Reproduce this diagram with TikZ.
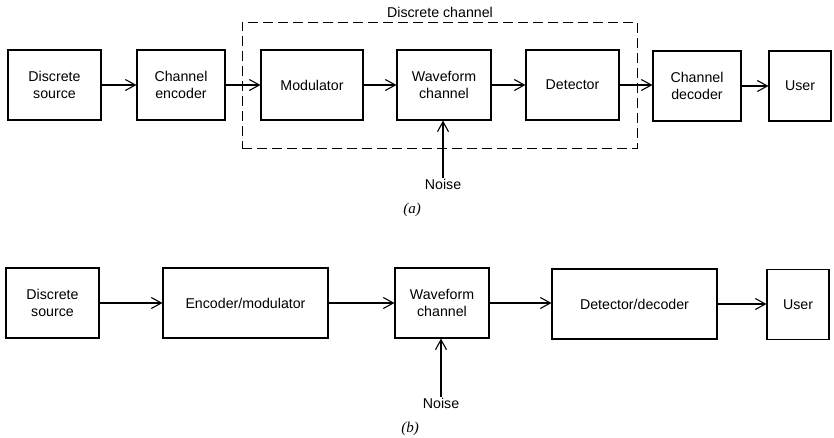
\documentclass[tikz,border=0pt]{standalone}
\usepackage{fontspec}
\setmainfont{Liberation Sans}
\newfontfamily\capfont{Liberation Serif}
\usetikzlibrary{arrows.meta}
\begin{document}
\begin{tikzpicture}[x=1pt,y=-1pt,
  blk/.style={draw,line width=1.1pt,minimum height=70pt,align=center,inner sep=2pt,
    font=\fontsize{14.2}{17}\selectfont},
  conn/.style={line width=1.8pt,-{Straight Barb[length=10pt,width=11pt,line width=1.1pt]}},
  txt/.style={font=\fontsize{14.2}{17}\selectfont,inner sep=1pt},
  figcap/.style={font=\capfont\itshape\fontsize{15}{17}\selectfont,inner sep=1pt}]
\useasboundingbox (0,0) rectangle (834,437);
% (a)
\node[draw,dashed,dash pattern=on 10pt off 5pt,line width=1pt,minimum width=395pt,minimum height=126pt] (dc) at (439.5,85) {};
\node[txt] (dcl) at (440,12) {Discrete channel};
\node[blk,minimum width=93pt] (src) at (54.5,85) {Discrete\\source};
\node[blk,minimum width=88pt] (enc) at (181,85) {Channel\\encoder};
\node[blk,minimum width=102pt] (mod) at (312,85) {Modulator};
\node[blk,minimum width=94pt] (wav) at (444,85) {Waveform\\channel};
\node[blk,minimum width=93pt] (det) at (572.5,85) {Detector};
\node[blk,minimum width=88pt] (dec) at (697,86) {Channel\\decoder};
\node[blk,minimum width=62pt] (usr) at (800,86) {User};
\node[txt] (noise) at (443,184) {Noise};
\node[figcap] (capa) at (412,210) {(a)};
\draw[conn] (src) -- (enc);
\draw[conn] (enc) -- (mod);
\draw[conn] (mod) -- (wav);
\draw[conn] (wav) -- (det);
\draw[conn] (det.east) -- (dec.west |- det.east);
\draw[conn] (dec) -- (usr);
\draw[conn] (noise.north) -- (noise.north |- wav.south);
% (b)
\node[blk,minimum width=93pt] (srcb) at (52.5,303) {Discrete\\source};
\node[blk,minimum width=165pt] (encb) at (245.5,303) {Encoder/modulator};
\node[blk,minimum width=94pt] (wavb) at (442,303) {Waveform\\channel};
\node[blk,minimum width=165pt] (detb) at (634.5,304) {Detector/decoder};
\node[blk,minimum width=62pt] (usrb) at (798,304.5) {User};
\node[txt] (noiseb) at (441,403) {Noise};
\node[figcap] (capb) at (410,429) {(b)};
\draw[conn] (srcb) -- (encb);
\draw[conn] (encb) -- (wavb);
\draw[conn] (wavb.east) -- (detb.west |- wavb.east);
\draw[conn] (detb.east) -- (usrb.west |- detb.east);
\draw[conn] (noiseb.north) -- (noiseb.north |- wavb.south);
\end{tikzpicture}
\end{document}
